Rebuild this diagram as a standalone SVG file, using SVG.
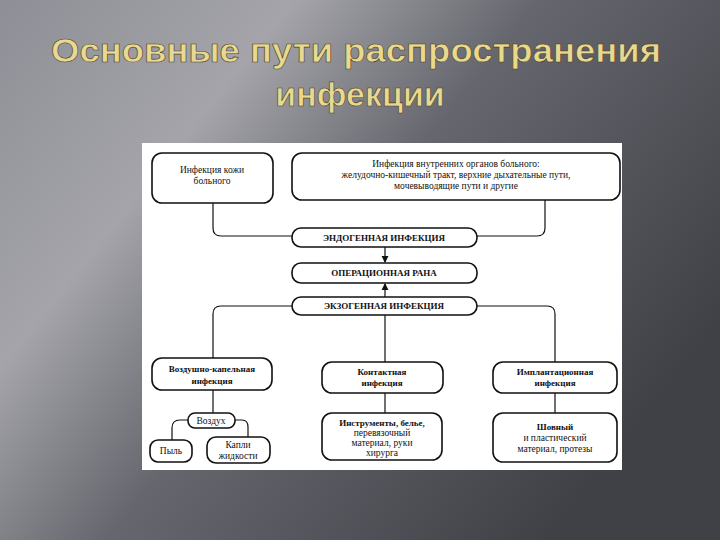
<svg xmlns="http://www.w3.org/2000/svg" width="720" height="540" viewBox="0 0 720 540">
<defs>
<linearGradient id="bg" x1="0" y1="0" x2="1" y2="0.6">
<stop offset="0" stop-color="#8e8e96"/>
<stop offset="0.3" stop-color="#a4a4aa"/>
<stop offset="0.55" stop-color="#66666e"/>
<stop offset="1" stop-color="#404047"/>
</linearGradient>
<marker id="ar" viewBox="0 0 8 8" refX="7" refY="4" markerWidth="6" markerHeight="6" orient="auto"><path d="M0,0 L8,4 L0,8 z" fill="#111"/></marker>
<style>
.b{fill:#fff;stroke:#111;stroke-width:1.6}
.c{fill:none;stroke:#111;stroke-width:1.2}
.t{font-family:"Liberation Serif",serif;font-size:9.5px;fill:#111;text-anchor:middle}
.k{font-weight:bold;font-size:9px}
.h{font-family:"Liberation Sans",Arial,sans-serif;font-weight:bold;font-size:34px;fill:#e8d890;stroke:#4a4020;stroke-width:0.6;text-anchor:middle}
</style>
</defs>
<rect width="720" height="540" fill="url(#bg)"/>
<text class="h" x="356" y="62" textLength="610" lengthAdjust="spacingAndGlyphs">Основные пути распространения</text>
<text class="h" x="360" y="106">инфекции</text>
<rect x="142" y="143" width="480" height="327" fill="#fff"/>
<g id="connectors">
<path class="c" d="M213,203 V228 Q213,236 221,236 H292"/>
<path class="c" d="M545,200 V228 Q545,236 537,236 H477"/>
<path class="c" d="M385,247 V262" marker-end="url(#ar)"/>
<path class="c" d="M385,297 V284" marker-end="url(#ar)"/>
<path class="c" d="M292,306 H221 Q213,306 213,314 V358"/>
<path class="c" d="M477,306 H547 Q555,306 555,314 V362"/>
<path class="c" d="M385,315 V362"/>
<path class="c" d="M213,390 V413"/>
<path class="c" d="M188,420 H180 Q172,420 172,428 V440"/>
<path class="c" d="M235,420 H242 Q248,420 248,427 V437"/>
<path class="c" d="M385,393 V413"/>
<path class="c" d="M555,393 V413"/>
</g>
<g id="n1"><rect class="b" x="152" y="153" width="121" height="50" rx="10"/><text class="t" x="212" y="173">Инфекция кожи</text><text class="t" x="212" y="184">больного</text></g>
<g id="n2"><rect class="b" x="292" y="153" width="328" height="47" rx="10"/><text class="t" x="456" y="167">Инфекция внутренних органов больного:</text><text class="t" x="456" y="178">желудочно-кишечный тракт, верхние дыхательные пути,</text><text class="t" x="456" y="189">мочевыводящие пути и другие</text></g>
<g id="n3"><rect class="b" x="292" y="228" width="185" height="19" rx="9"/><text class="t k" x="384" y="241">ЭНДОГЕННАЯ ИНФЕКЦИЯ</text></g>
<g id="n4"><rect class="b" x="292" y="263" width="185" height="20" rx="9"/><text class="t k" x="384" y="276">ОПЕРАЦИОННАЯ РАНА</text></g>
<g id="n5"><rect class="b" x="292" y="297" width="185" height="18" rx="9"/><text class="t k" x="384" y="309">ЭКЗОГЕННАЯ ИНФЕКЦИЯ</text></g>
<g id="n6"><rect class="b" x="152" y="358" width="120" height="32" rx="10"/><text class="t k" x="212" y="372">Воздушно-капельная</text><text class="t k" x="212" y="384">инфекция</text></g>
<g id="n7"><rect class="b" x="322" y="362" width="121" height="31" rx="10"/><text class="t k" x="382" y="375">Контактная</text><text class="t k" x="382" y="386">инфекция</text></g>
<g id="n8"><rect class="b" x="493" y="362" width="124" height="31" rx="10"/><text class="t k" x="555" y="375">Имплантационная</text><text class="t k" x="555" y="386">инфекция</text></g>
<g id="n9"><rect class="b" x="188" y="413" width="47" height="15" rx="7"/><text class="t" x="211" y="424">Воздух</text></g>
<g id="n10"><rect class="b" x="150" y="440" width="42" height="22" rx="8"/><text class="t" x="171" y="454">Пыль</text></g>
<g id="n11"><rect class="b" x="207" y="437" width="63" height="26" rx="9"/><text class="t" x="238" y="448">Капли</text><text class="t" x="238" y="459">жидкости</text></g>
<g id="n12"><rect class="b" x="322" y="413" width="120" height="47" rx="10"/><text class="t k" x="382" y="426">Инструменты, белье,</text><text class="t" x="382" y="436">перевязочный</text><text class="t" x="382" y="446">материал, руки</text><text class="t" x="382" y="456">хирурга</text></g>
<g id="n13"><rect class="b" x="493" y="413" width="124" height="49" rx="10"/><text class="t k" x="555" y="430">Шовный</text><text class="t" x="555" y="441">и пластический</text><text class="t" x="555" y="452">материал, протезы</text></g>
</svg>
